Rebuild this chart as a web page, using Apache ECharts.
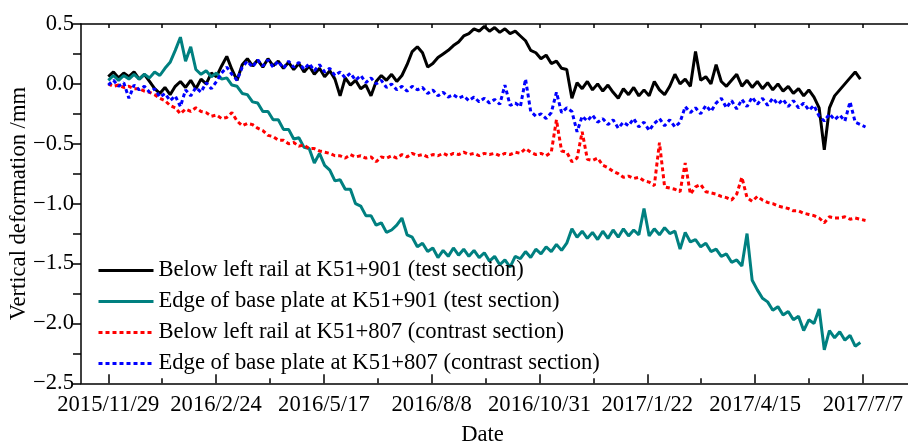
<!DOCTYPE html>
<html>
<head>
<meta charset="utf-8">
<script src="https://cdn.jsdelivr.net/npm/echarts@6/dist/echarts.min.js"></script>
<style>
html,body{margin:0;padding:0;background:#fff;}
#chart{width:908px;height:442px;}
</style>
</head>
<body>
<div id="chart"></div>
<script>
// Dates shown on the x axis (evenly spaced ticks)
const tickLabels = ['2015/11/29','2016/2/24','2016/5/17','2016/8/8','2016/10/31','2017/1/22','2017/4/15','2017/7/7'];
const totalDays = 586; // 2015/11/29 -> 2017/7/7

// Sample days (days since 2015/11/29)
const days = [0,4,8,12,16,20,24,28,32,36,40,44,48,52,56,60,64,68,72,76,80,84,88,92,96,100,104,108,112,116,
120,124,128,132,136,140,144,148,152,156,160,164,168,172,176,180,184,188,192,196,200,204,208,212,216,220,224,228,232,236,
240,244,248,252,256,260,264,268,272,276,280,284,288,292,296,300,304,308,312,316,320,324,328,332,336,340,344,348,352,356,
360,364,368,372,376,380,384,388,392,396,400,404,408,412,416,420,424,428,432,436,440,444,448,452,456,460,464,468,472,476,
480,484,488,492,496,500,504,508,512,516,520,524,528,532,536,540,544,548,552,556,560,564,568,572,576,580,584,588];

// Below left rail at K51+901 (test section)
const belowRailTest = [0.06,0.10,0.05,0.09,0.06,0.10,0.04,0.08,0.02,-0.04,
-0.08,-0.03,-0.09,-0.02,0.02,-0.03,0.03,-0.04,0.04,0.00,
0.09,0.06,0.15,0.23,0.12,0.03,0.16,0.21,0.15,0.20,
0.14,0.21,0.15,0.19,0.13,0.18,0.12,0.17,0.10,0.15,
0.08,0.13,0.06,0.11,0.04,-0.10,0.05,-0.01,0.03,-0.04,
-0.01,-0.10,0.02,0.07,0.03,0.08,0.02,0.07,0.16,0.27,
0.31,0.26,0.14,0.17,0.22,0.25,0.28,0.32,0.35,0.40,
0.42,0.46,0.44,0.48,0.44,0.47,0.43,0.46,0.42,0.44,
0.40,0.36,0.28,0.26,0.21,0.24,0.17,0.19,0.13,0.12,
-0.12,0.01,-0.04,0.02,-0.05,0.00,-0.06,-0.01,-0.07,-0.12,
-0.04,-0.09,-0.03,-0.10,-0.05,-0.10,0.02,-0.05,-0.09,-0.02,
0.08,0.00,0.04,-0.02,0.27,0.03,0.06,0.00,0.16,0.02,
-0.02,0.03,0.08,-0.02,0.03,-0.03,0.02,-0.04,0.01,-0.05,
0.00,-0.06,-0.02,-0.08,-0.04,-0.10,-0.05,-0.11,-0.20,-0.55,
-0.20,-0.10,-0.05,0.00,0.05,0.10,0.04];

// Edge of base plate at K51+901 (test section)
const basePlateTest = [0.03,0.07,0.03,0.07,0.04,0.08,0.04,0.08,0.05,0.10,
0.07,0.13,0.18,0.28,0.39,0.19,0.31,0.12,0.08,0.11,
0.06,0.09,0.04,0.05,-0.01,-0.02,-0.08,-0.09,-0.15,-0.16,
-0.23,-0.23,-0.30,-0.30,-0.38,-0.38,-0.46,-0.45,-0.53,-0.54,
-0.66,-0.58,-0.68,-0.72,-0.81,-0.80,-0.88,-0.88,-1.00,-1.02,
-1.10,-1.10,-1.18,-1.16,-1.24,-1.22,-1.18,-1.12,-1.26,-1.28,
-1.36,-1.33,-1.40,-1.37,-1.45,-1.39,-1.44,-1.37,-1.43,-1.38,
-1.44,-1.39,-1.45,-1.41,-1.48,-1.44,-1.51,-1.47,-1.53,-1.44,
-1.46,-1.40,-1.45,-1.38,-1.42,-1.36,-1.40,-1.34,-1.39,-1.33,
-1.21,-1.28,-1.23,-1.29,-1.24,-1.30,-1.23,-1.29,-1.22,-1.28,
-1.21,-1.27,-1.22,-1.26,-1.04,-1.27,-1.21,-1.26,-1.20,-1.25,
-1.23,-1.38,-1.24,-1.32,-1.30,-1.36,-1.33,-1.40,-1.38,-1.44,
-1.42,-1.49,-1.47,-1.52,-1.25,-1.64,-1.72,-1.79,-1.82,-1.89,
-1.86,-1.93,-1.90,-1.97,-1.94,-2.06,-1.97,-2.00,-1.88,-2.22,
-2.06,-2.12,-2.07,-2.14,-2.10,-2.19,-2.16];

// Below left rail at K51+807 (contrast section)
const belowRailContrast = [0.00,-0.02,-0.01,-0.03,-0.02,-0.04,-0.04,-0.06,-0.07,-0.09,
-0.12,-0.14,-0.18,-0.20,-0.25,-0.21,-0.23,-0.20,-0.23,-0.24,
-0.27,-0.26,-0.29,-0.28,-0.24,-0.31,-0.35,-0.33,-0.34,-0.37,
-0.39,-0.43,-0.44,-0.47,-0.47,-0.50,-0.49,-0.52,-0.51,-0.54,
-0.54,-0.56,-0.57,-0.58,-0.60,-0.60,-0.62,-0.59,-0.61,-0.60,
-0.62,-0.61,-0.65,-0.61,-0.62,-0.60,-0.62,-0.59,-0.61,-0.58,
-0.60,-0.59,-0.61,-0.59,-0.60,-0.58,-0.60,-0.58,-0.59,-0.57,
-0.59,-0.58,-0.60,-0.58,-0.59,-0.58,-0.60,-0.58,-0.59,-0.57,
-0.58,-0.54,-0.57,-0.59,-0.58,-0.60,-0.57,-0.30,-0.56,-0.57,
-0.65,-0.62,-0.40,-0.63,-0.64,-0.62,-0.68,-0.70,-0.73,-0.75,
-0.78,-0.77,-0.79,-0.78,-0.81,-0.82,-0.85,-0.49,-0.86,-0.87,
-0.88,-0.90,-0.66,-0.92,-0.86,-0.84,-0.90,-0.91,-0.92,-0.94,
-0.95,-0.97,-0.92,-0.78,-0.95,-0.98,-0.94,-0.97,-0.99,-1.00,
-1.02,-1.03,-1.04,-1.06,-1.06,-1.08,-1.09,-1.10,-1.12,-1.16,
-1.11,-1.12,-1.12,-1.11,-1.13,-1.12,-1.13,-1.14];

// Edge of base plate at K51+807 (contrast section)
const basePlateContrast = [-0.01,0.03,-0.02,0.01,-0.12,-0.01,-0.05,-0.02,-0.07,-0.04,
-0.11,-0.08,-0.14,-0.10,-0.19,-0.05,-0.10,-0.03,-0.07,0.01,
-0.04,0.02,0.09,0.14,0.08,0.03,0.14,0.19,0.14,0.20,
0.15,0.20,0.14,0.19,0.13,0.19,0.14,0.18,0.12,0.17,
0.11,0.16,0.10,0.13,0.07,0.10,0.05,0.09,0.03,0.07,
0.01,0.05,0.00,0.03,-0.03,0.00,-0.05,-0.02,-0.06,-0.02,
-0.05,-0.03,-0.08,-0.05,-0.10,-0.07,-0.11,-0.09,-0.12,-0.10,
-0.14,-0.11,-0.15,-0.12,-0.16,-0.13,-0.17,-0.01,-0.18,-0.16,
-0.19,0.04,-0.23,-0.27,-0.25,-0.29,-0.24,-0.07,-0.24,-0.20,
-0.23,-0.40,-0.27,-0.31,-0.26,-0.32,-0.29,-0.34,-0.30,-0.37,
-0.32,-0.35,-0.29,-0.36,-0.32,-0.39,-0.33,-0.29,-0.35,-0.30,
-0.36,-0.32,-0.19,-0.24,-0.20,-0.25,-0.18,-0.23,-0.16,-0.12,
-0.20,-0.14,-0.21,-0.13,-0.19,-0.11,-0.17,-0.12,-0.18,-0.12,
-0.17,-0.13,-0.19,-0.14,-0.20,-0.16,-0.22,-0.18,-0.27,-0.31,
-0.25,-0.30,-0.26,-0.31,-0.15,-0.32,-0.34,-0.36];

const seriesNames = [
  'Below left rail at K51+901 (test section)',
  'Edge of base plate at K51+901 (test section)',
  'Below left rail at K51+807 (contrast section)',
  'Edge of base plate at K51+807 (contrast section)'
];

const FONT = "'Liberation Serif','Times New Roman',serif";
const FS = 22.6;
const tickStep = totalDays / (tickLabels.length - 1);
const majorTicks = tickLabels.map((_, k) => k * tickStep);
const minorTicks = majorTicks.slice(0, -1).map(v => v + tickStep / 2);
const xMin = -21.2, xMax = 621;

function pairs(vals) { return vals.map((v, i) => [days[i], v]); }

const chart = echarts.init(document.getElementById('chart'), null, {renderer: 'canvas'});
const axisCol = {color: '#000', width: 1.5};
chart.setOption({
  animation: false,
  backgroundColor: '#fff',
  grid: {left: 81, right: 0, top: 24, bottom: 58.7, containLabel: false, outerBoundsMode: 'none'},
  legend: {
    orient: 'vertical', left: 92, top: 254,
    itemWidth: 55, itemHeight: 14, itemGap: 8,
    textStyle: {fontSize: FS, fontFamily: FONT, color: '#000', lineHeight: 22},
    lineStyle: {width: 3},
    itemStyle: {opacity: 0},
    data: seriesNames
  },
  xAxis: [
    {
      type: 'value', position: 'bottom', min: xMin, max: xMax,
      axisLine: {show: true, onZero: false, lineStyle: axisCol},
      axisTick: {show: true, inside: true, length: 9, customValues: majorTicks, lineStyle: axisCol},
      axisLabel: {customValues: majorTicks, formatter: v => tickLabels[Math.round(v / tickStep)],
        margin: 10, color: '#000', fontSize: FS, fontFamily: FONT},
      splitLine: {show: false},
      name: 'Date', nameLocation: 'middle', nameGap: 40, nameMoveOverlap: false,
      nameTextStyle: {fontSize: FS, fontFamily: FONT, color: '#000', padding: [0, 24, 0, 0]}
    },
    {
      type: 'value', position: 'bottom', min: xMin, max: xMax,
      axisLine: {show: false, onZero: false},
      axisTick: {show: true, inside: true, length: 5, customValues: minorTicks, lineStyle: axisCol},
      axisLabel: {show: false}, splitLine: {show: false}
    },
    {
      type: 'value', position: 'top', min: xMin, max: xMax,
      axisLine: {show: true, onZero: false, lineStyle: axisCol},
      axisTick: {show: true, inside: true, length: 4, customValues: majorTicks.concat(minorTicks), lineStyle: axisCol},
      axisLabel: {show: false}, splitLine: {show: false}
    }
  ],
  yAxis: {
    type: 'value', min: -2.5, max: 0.5, interval: 0.5,
    axisLine: {show: true, onZero: false, lineStyle: axisCol},
    axisTick: {show: true, inside: false, length: 8, lineStyle: axisCol},
    minorTick: {show: true, splitNumber: 2, length: 8, lineStyle: axisCol},
    axisLabel: {formatter: v => (v < 0 ? '\u2212' : '') + Math.abs(v).toFixed(1),
      margin: 7, color: '#000', fontSize: FS, fontFamily: FONT},
    splitLine: {show: false}, minorSplitLine: {show: false},
    name: 'Vertical deformation /mm', nameLocation: 'middle', nameGap: 50, nameMoveOverlap: false,
    nameTextStyle: {fontSize: FS, fontFamily: FONT, color: '#000'}
  },
  series: [
    {name: seriesNames[0], type: 'line', symbol: 'none', data: pairs(belowRailTest),
      lineStyle: {color: '#000000', width: 3}, itemStyle: {color: '#000000'}},
    {name: seriesNames[1], type: 'line', symbol: 'none', data: pairs(basePlateTest),
      lineStyle: {color: '#008080', width: 3}, itemStyle: {color: '#008080'}},
    {name: seriesNames[2], type: 'line', symbol: 'none', data: pairs(belowRailContrast),
      lineStyle: {color: '#ff0000', width: 3, type: [4, 3]}, itemStyle: {color: '#ff0000'}},
    {name: seriesNames[3], type: 'line', symbol: 'none', data: pairs(basePlateContrast),
      lineStyle: {color: '#0000ff', width: 3, type: [4, 3]}, itemStyle: {color: '#0000ff'}}
  ]
});
</script>
</body>
</html>
